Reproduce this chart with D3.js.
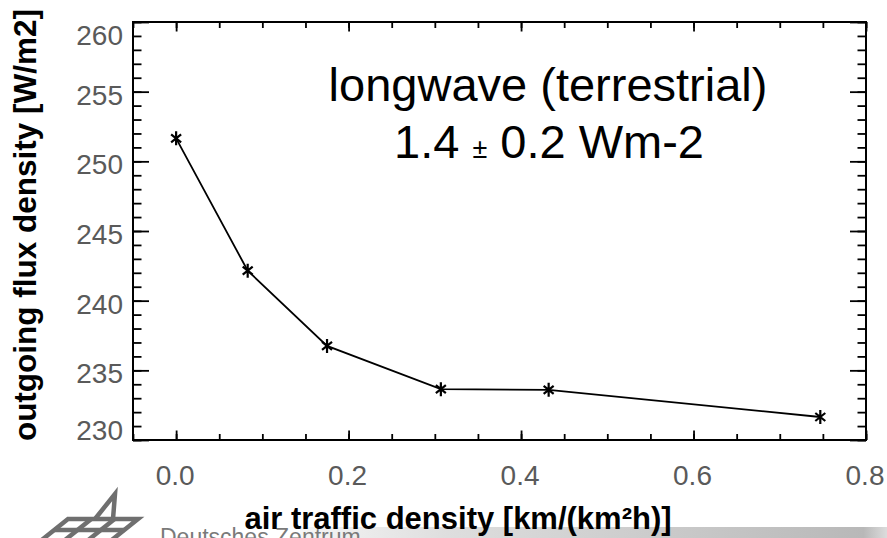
<!DOCTYPE html>
<html>
<head>
<meta charset="utf-8">
<script src="https://cdn.jsdelivr.net/npm/d3@7"></script>
<style>
  html, body { margin: 0; padding: 0; background: #fff; }
  svg { display: block; }
  .tick line { stroke: #000; stroke-width: 1.8; }
  .tick text { display: none; }
</style>
</head>
<body>
<div id="chart"></div>
<script>
// data
const trafficDensity = [0.0, 0.083, 0.175, 0.307, 0.432, 0.747];
const fluxDensity    = [251.65, 242.15, 236.75, 233.65, 233.6, 231.65];

const yMajorTicks = [230, 235, 240, 245, 250, 255, 260];
const yTickLabels = ["230", "235", "240", "245", "250", "255", "260"];
const yMinorTicks = d3.range(230, 261, 1);
const xMajorTicks = [0.0, 0.2, 0.4, 0.6, 0.8];
const xTickLabels = ["0.0", "0.2", "0.4", "0.6", "0.8"];
const xMinorTicks = d3.range(-0.05, 0.8001, 0.05);

const W = 887, H = 538;
const mLeft = 133, mRight = 866, mTop = 22, mBottom = 440;

const svg = d3.select("#chart").append("svg")
  .attr("width", W)
  .attr("height", H);

const x = d3.scaleLinear().domain([-0.05, 0.8]).range([mLeft, mRight]);
const y = d3.scaleLinear().domain([230, 260]).range([mBottom, mTop]);

// bottom strip + logo (slide furniture)
const defs = svg.append("defs");
const grad = defs.append("linearGradient").attr("id", "bar");
grad.append("stop").attr("offset", "0%").attr("stop-color", "#f6f6f6");
grad.append("stop").attr("offset", "25%").attr("stop-color", "#dedede");
grad.append("stop").attr("offset", "96%").attr("stop-color", "#b8b8b8");
grad.append("stop").attr("offset", "100%").attr("stop-color", "#dcdcdc");
svg.append("rect")
  .attr("x", 300).attr("y", 527).attr("width", W - 300).attr("height", H - 527)
  .attr("fill", "url(#bar)");

const logo = svg.append("g")
  .attr("fill", "none")
  .attr("stroke", "#6f6f6f")
  .attr("stroke-width", 4.5)
  .attr("stroke-linejoin", "miter");
// skewed grid
const sk = 1.25;
const gx = (px, py) => px - (py - 519) * sk;
logo.append("path").attr("d",
  `M${gx(68,519)},519 L${gx(138,519)},519 L${gx(138,547)},547 L${gx(68,547)},547 Z`);
logo.append("path").attr("d", `M${gx(68,530)},530 L${gx(138,530)},530`);
[91.3, 114.6].forEach(px => {
  logo.append("path").attr("d", `M${gx(px,519)},519 L${gx(px,547)},547`);
});
// roof
logo.append("path").attr("d", "M95,519 L115,494 L113,519");

svg.append("text")
  .attr("x", 160).attr("y", 545)
  .attr("font-family", "Liberation Sans, Arial, sans-serif")
  .attr("font-size", 23)
  .attr("fill", "#7a7a7a")
  .text("Deutsches Zentrum");

// plot frame
const plot = svg.append("g");

// ticks drawn through d3 axes (inward)
plot.append("g").attr("transform", `translate(${mLeft},0)`)
  .call(d3.axisLeft(y).tickValues(yMinorTicks).tickSize(-8.5).tickFormat(""));
plot.append("g").attr("transform", `translate(${mLeft},0)`)
  .call(d3.axisLeft(y).tickValues(yMajorTicks).tickSize(-16).tickFormat(""));
plot.append("g").attr("transform", `translate(${mRight},0)`)
  .call(d3.axisRight(y).tickValues(yMinorTicks).tickSize(-8.5).tickFormat(""));
plot.append("g").attr("transform", `translate(${mRight},0)`)
  .call(d3.axisRight(y).tickValues(yMajorTicks).tickSize(-16).tickFormat(""));
plot.append("g").attr("transform", `translate(0,${mBottom})`)
  .call(d3.axisBottom(x).tickValues(xMinorTicks).tickSize(-6).tickFormat(""));
plot.append("g").attr("transform", `translate(0,${mBottom})`)
  .call(d3.axisBottom(x).tickValues(xMajorTicks).tickSize(-9.5).tickFormat(""));
plot.append("g").attr("transform", `translate(0,${mTop})`)
  .call(d3.axisTop(x).tickValues(xMinorTicks).tickSize(-6).tickFormat(""));
plot.append("g").attr("transform", `translate(0,${mTop})`)
  .call(d3.axisTop(x).tickValues(xMajorTicks).tickSize(-9.5).tickFormat(""));
plot.selectAll(".domain").remove();

plot.append("rect")
  .attr("x", mLeft).attr("y", mTop)
  .attr("width", mRight - mLeft).attr("height", mBottom - mTop)
  .attr("fill", "none")
  .attr("stroke", "#000")
  .attr("stroke-width", 2);

// tick labels
const tickFont = "Liberation Sans, Arial, sans-serif";
plot.selectAll(".ylab")
  .data(yMajorTicks)
  .enter().append("text")
  .attr("class", "ylab")
  .attr("x", mLeft - 10)
  .attr("y", d => Math.max(35, Math.min(430, y(d) + 3)))
  .attr("dy", "0.36em")
  .attr("text-anchor", "end")
  .attr("font-family", tickFont)
  .attr("font-size", 28)
  .attr("fill", "#5a5a5a")
  .text((d, i) => yTickLabels[i]);

plot.selectAll(".xlab")
  .data(xMajorTicks)
  .enter().append("text")
  .attr("class", "xlab")
  .attr("x", d => x(d) - 1)
  .attr("y", 485)
  .attr("text-anchor", "middle")
  .attr("font-family", tickFont)
  .attr("font-size", 28)
  .attr("fill", "#5a5a5a")
  .text((d, i) => xTickLabels[i]);

// series line
const pts = trafficDensity.map((d, i) => [d, fluxDensity[i]]);
plot.append("path")
  .datum(pts)
  .attr("fill", "none")
  .attr("stroke", "#000")
  .attr("stroke-width", 1.8)
  .attr("d", d3.line().x(d => x(d[0])).y(d => y(d[1])));

// asterisk markers
const star = "M0,-7 L0,7 M-5,-4 L5,4 M-5,4 L5,-4";
plot.selectAll(".pt")
  .data(pts)
  .enter().append("path")
  .attr("class", "pt")
  .attr("transform", d => `translate(${x(d[0])},${y(d[1])})`)
  .attr("d", star)
  .attr("fill", "none")
  .attr("stroke", "#000")
  .attr("stroke-width", 2.2);

// annotation
const ann = svg.append("g")
  .attr("font-family", "Liberation Sans, Arial, sans-serif")
  .attr("fill", "#000");
ann.append("text")
  .attr("x", 548).attr("y", 101)
  .attr("text-anchor", "middle")
  .attr("font-size", 47)
  .text("longwave (terrestrial)");
const l2 = ann.append("text")
  .attr("x", 549).attr("y", 158)
  .attr("text-anchor", "middle")
  .attr("font-size", 47);
l2.append("tspan").text("1.4 ");
l2.append("tspan").attr("font-size", 27).text("±");
l2.append("tspan").text(" 0.2 Wm-2");

// axis titles
svg.append("text")
  .attr("x", 458).attr("y", 529)
  .attr("text-anchor", "middle")
  .attr("font-family", "Liberation Sans, Arial, sans-serif")
  .attr("font-weight", "bold")
  .attr("font-size", 31)
  .attr("fill", "#000")
  .text("air traffic density [km/(km²h)]");

svg.append("text")
  .attr("transform", "translate(36,225) rotate(-90)")
  .attr("text-anchor", "middle")
  .attr("font-family", "Liberation Sans, Arial, sans-serif")
  .attr("font-weight", "bold")
  .attr("font-size", 31.5)
  .attr("fill", "#000")
  .text("outgoing flux density [W/m2]");
</script>
</body>
</html>
